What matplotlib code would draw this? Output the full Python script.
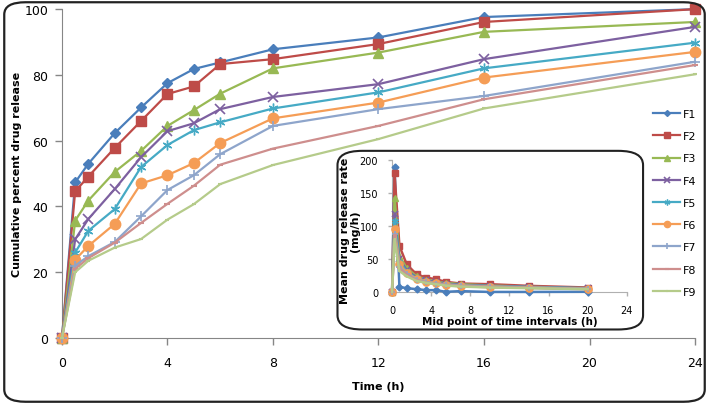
import matplotlib
matplotlib.use("Agg")
import matplotlib.pyplot as plt
from matplotlib.patches import FancyBboxPatch

plt.rcParams['font.family'] = ['DejaVu Sans']

time_h = [0, 0.5, 1, 2, 3, 4, 5, 6, 8, 12, 16, 24]
F1 = [0, 47.3, 53, 62.3, 70.1, 77.5, 81.8, 83.8, 87.8, 91.4, 97.6, 100]
F2 = [0, 44.6, 49.1, 57.8, 66, 74.2, 76.5, 83.3, 84.8, 89.4, 96.1, 100]
F3 = [0, 35.7, 41.8, 50.5, 56.9, 64.5, 69.3, 74.3, 82, 86.8, 93.1, 96.1]
F4 = [0, 30, 36.2, 45.3, 55, 62.9, 65.3, 69.6, 73.3, 77.2, 84.8, 94.6]
F5 = [0, 26, 32.6, 39.2, 52, 58.7, 63.2, 65.6, 69.8, 74.7, 82, 89.8]
F6 = [0, 23.8, 28, 34.7, 47, 49.5, 53.2, 59.3, 66.8, 71.6, 79.2, 87]
F7 = [0, 22, 24.9, 29.2, 37, 45, 49.5, 55.9, 64.5, 69.6, 73.6, 84]
F8 = [0, 21, 24.3, 29, 35, 40.8, 46.3, 52.7, 57.6, 64.5, 72.6, 83]
F9 = [0, 20, 23.5, 27.5, 30.1, 36, 40.7, 46.8, 52.6, 60.5, 69.8, 80.2]

mid_h = [0, 0.25, 0.75, 1.5, 2.5, 3.5, 4.5, 5.5, 7, 10, 14, 20]
R1 = [0, 190, 8, 6, 4.5, 3, 3, 0.5, 1.5, 0.3, 0.3, 0.5]
R2 = [0, 180, 70, 42, 27, 22, 19.5, 15.6, 13, 12, 9.5, 7]
R3 = [0, 143, 55, 36, 24, 19, 16, 14, 12, 10, 8, 6]
R4 = [0, 118, 50, 33, 22, 18, 15, 13, 11, 9.5, 8, 6]
R5 = [0, 108, 46, 31, 21, 17, 14, 12, 10.5, 9, 7.5, 5.5]
R6 = [0, 95, 42, 29, 20, 16, 13.5, 11.5, 10, 8.5, 7, 5]
R7 = [0, 88, 38, 27, 19, 15, 13, 11, 9.5, 8, 6.5, 5]
R8 = [0, 86, 36, 26, 18, 14.5, 12.5, 10.5, 9, 7.5, 6.5, 4.5]
R9 = [0, 80, 32, 24, 17, 14, 12, 10, 8.5, 7, 6, 4.5]

labels = ['F1', 'F2', 'F3', 'F4', 'F5', 'F6', 'F7', 'F8', 'F9']
cum_series = [F1, F2, F3, F4, F5, F6, F7, F8, F9]
rate_series = [R1, R2, R3, R4, R5, R6, R7, R8, R9]

colors = ['#4A7EBB', '#BE4B48', '#98B954', '#7D60A0', '#46AAC5',
          '#F59D56', '#8EA5CB', '#CE8E8D', '#B5CB8A']
markers = ['D', 's', '^', 'x', (6, 2, 0), 'o', '+', '_', '_']
msizes = [5, 7, 6.5, 7, 7, 7.5, 7, 4, 3]
mew = [1, 1, 1, 1.2, 1.0, 1, 1.2, 1.5, 1.5]

fig = plt.figure(figsize=(7.09, 4.06), dpi=100)

# outer rounded frame
fig.patches.append(FancyBboxPatch((0.006, 0.008), 0.988, 0.984,
                                  boxstyle="round,pad=0,rounding_size=0.03",
                                  transform=fig.transFigure, fill=False,
                                  edgecolor='#222222', linewidth=1.6))

ax = fig.add_axes([0.0874, 0.165, 0.8929, 0.810])
axis_gray = '#868686'
for i, (s, lab) in enumerate(zip(cum_series, labels)):
    ax.plot(time_h, s, color=colors[i], marker=markers[i], markersize=msizes[i],
            markeredgewidth=mew[i], markeredgecolor=colors[i],
            linewidth=1.6, label=lab, clip_on=False, zorder=3 + i)
ax.set_xlim(0, 24)
ax.set_ylim(0, 100)
ax.set_xticks(range(0, 25, 4))
ax.set_yticks(range(0, 101, 20))
for sp in ['top', 'right']:
    ax.spines[sp].set_visible(False)
for sp in ['left', 'bottom']:
    ax.spines[sp].set_color(axis_gray)
ax.tick_params(axis='both', colors=axis_gray, labelcolor='black', labelsize=9,
               direction='out', length=5, width=1)
ax.tick_params(axis='x', pad=8)
ax.tick_params(axis='y', pad=5)
ax.set_xlabel('Time (h)', fontsize=8, fontweight='bold')
ax.set_ylabel('Cumulative percent drug release', fontsize=8, fontweight='bold')
ax.xaxis.set_label_coords(0.5, -0.131)
ax.yaxis.set_label_coords(-0.063, 0.5)

leg = ax.legend(loc='upper left', bbox_to_anchor=(0.915, 0.74),
                bbox_transform=fig.transFigure, frameon=False, fontsize=8,
                handlelength=2.4, labelspacing=1.1, handletextpad=0.3,
                borderaxespad=0, markerscale=0.6)

# inset rounded box
fig.patches.append(FancyBboxPatch((0.476, 0.186), 0.431, 0.440,
                                  boxstyle="round,pad=0,rounding_size=0.035",
                                  transform=fig.transFigure, facecolor='white',
                                  edgecolor='#222222', linewidth=1.5, zorder=5))

ins = fig.add_axes([0.553, 0.278, 0.331, 0.325], zorder=6)
ins.patch.set_alpha(0)
for i, s in enumerate(rate_series):
    ins.plot(mid_h, s, color=colors[i], marker=markers[i],
             markersize=msizes[i] * 0.7, markeredgewidth=mew[i],
             markeredgecolor=colors[i], linewidth=1.8, clip_on=False,
             zorder=3 + i)
ins.set_xlim(0, 24)
ins.set_ylim(0, 200)
ins.set_xticks(range(0, 25, 4))
ins.set_yticks(range(0, 201, 50))
for sp in ['top', 'right']:
    ins.spines[sp].set_visible(False)
for sp in ['left', 'bottom']:
    ins.spines[sp].set_color('#B0B0B0')
ins.tick_params(axis='both', colors='#B0B0B0', labelcolor='black', labelsize=7,
                direction='out', length=3, width=1)
ins.tick_params(axis='x', pad=6)
ins.tick_params(axis='y', pad=7)
ins.set_xlabel('Mid point of time intervals (h)', fontsize=7.4,
               fontweight='bold')
ins.set_ylabel('Mean drug release rate\n(mg/h)', fontsize=8,
               fontweight='bold', linespacing=1.0)
ins.xaxis.set_label_coords(0.5, -0.18)
ins.yaxis.set_label_coords(-0.136, 0.47)

fig.savefig('out.png', dpi=100)
